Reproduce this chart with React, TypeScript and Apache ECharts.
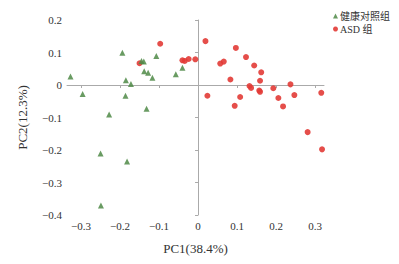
import React, { useEffect, useRef } from "react";
import * as echarts from "echarts";

const controlPoints: [number, number][] = [
  [-0.327, 0.026], [-0.296, -0.028], [-0.194, 0.099], [-0.185, 0.015],
  [-0.172, 0.003], [-0.186, -0.033], [-0.228, -0.091], [-0.138, 0.042],
  [-0.128, 0.038], [-0.117, 0.022], [-0.132, -0.073], [-0.107, 0.089],
  [-0.057, 0.033], [-0.040, 0.053], [-0.250, -0.211], [-0.182, -0.235],
  [-0.249, -0.371], [-0.145, 0.074], [-0.139, 0.072],
];

const asdPoints: [number, number][] = [
  [-0.097, 0.127], [-0.150, 0.067], [-0.040, 0.076], [-0.034, 0.074],
  [-0.024, 0.080], [-0.007, 0.079], [0.019, 0.135], [0.097, 0.114],
  [0.123, 0.086], [0.144, 0.060], [0.162, 0.039], [0.057, 0.066],
  [0.066, 0.072], [0.083, 0.017], [0.159, 0.013], [0.132, -0.003],
  [0.136, -0.009], [0.157, -0.017], [0.159, -0.021], [0.193, -0.010],
  [0.237, 0.002], [0.247, -0.031], [0.206, -0.040], [0.218, -0.066],
  [0.316, -0.024], [0.024, -0.033], [0.108, -0.037], [0.094, -0.064],
  [0.281, -0.145], [0.318, -0.198],
];

const xTicks = [-0.3, -0.2, -0.1, 0, 0.1, 0.2, 0.3];
const seriesNames = ["健康对照组", "ASD 组"];
const axisNames = ["PC1(38.4%)", "PC2(12.3%)"];

const fmt = (v: number) => {
  const r = Math.round(v * 10) / 10;
  if (r === 0) return "0";
  return (r < 0 ? "\u2212" : "") + Math.abs(r).toFixed(1);
};

const serif = "'Liberation Serif', 'Times New Roman', serif";
const cjk = "'Liberation Serif', 'Noto Sans CJK SC', serif";

export default function App() {
  const ref = useRef<HTMLDivElement>(null);
  useEffect(() => {
    if (!ref.current) return;
    const chart = echarts.init(ref.current, undefined, { renderer: "svg" });
    chart.setOption({
      animation: false,
      backgroundColor: "#ffffff",
      grid: { left: 67, right: 75, top: 20, bottom: 49 },
      legend: {
        orient: "vertical",
        left: 333,
        top: 11,
        padding: 0,
        itemGap: 3,
        itemWidth: 5,
        itemHeight: 5,
        textStyle: { fontSize: 10, fontFamily: cjk, color: "#333", padding: [0, 0, 0, -3] },
        data: [
          { name: seriesNames[0], icon: "triangle" },
          { name: seriesNames[1], icon: "circle" },
        ],
      },
      xAxis: {
        type: "value",
        min: -0.336,
        max: 0.323,
        name: axisNames[0],
        nameLocation: "middle",
        nameGap: 27,
        nameTextStyle: { fontSize: 13, fontFamily: serif, color: "#333" },
        splitLine: { show: false },
        axisLine: { show: true, lineStyle: { color: "#aaa" } },
        axisTick: { show: true, length: 3, customValues: xTicks, lineStyle: { color: "#aaa" } },
        axisLabel: {
          customValues: xTicks,
          formatter: fmt,
          fontSize: 11,
          fontFamily: serif,
          color: "#333",
          margin: 5,
        },
      },
      yAxis: {
        type: "value",
        min: -0.4,
        max: 0.2,
        interval: 0.1,
        name: axisNames[1],
        nameLocation: "middle",
        nameGap: 38,
        nameTextStyle: { fontSize: 13, fontFamily: serif, color: "#333" },
        splitLine: { show: false },
        axisLine: { show: true, lineStyle: { color: "#aaa" } },
        axisTick: { show: true, length: 3, lineStyle: { color: "#aaa" } },
        axisLabel: { formatter: fmt, fontSize: 11, fontFamily: serif, color: "#333", margin: 5 },
      },
      series: [
        {
          name: seriesNames[1],
          type: "scatter",
          symbol: "circle",
          symbolSize: 6,
          itemStyle: { color: "#e23b36", opacity: 0.9 },
          data: asdPoints,
          z: 2,
        },
        {
          name: seriesNames[0],
          type: "scatter",
          symbol: "triangle",
          symbolSize: 6,
          itemStyle: { color: "#4f8a47", opacity: 0.85 },
          data: controlPoints,
          z: 3,
        },
      ],
    });
    return () => chart.dispose();
  }, []);
  return <div ref={ref} style={{ width: 399, height: 264, position: "absolute", left: 0, top: 0 }} />;
}
